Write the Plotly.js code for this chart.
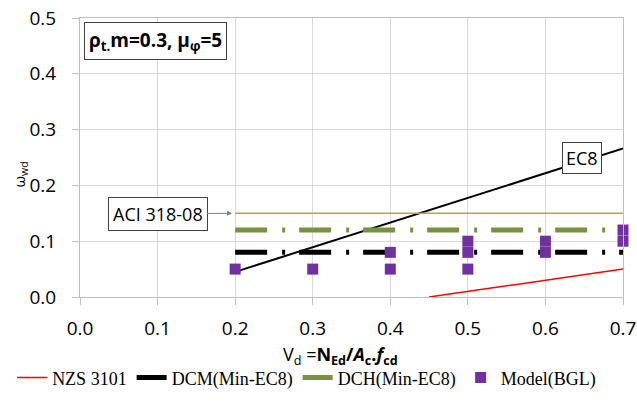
<!DOCTYPE html>
<html><head><meta charset="utf-8">
<script src="https://cdn.plot.ly/plotly-3.0.1.min.js"></script>
<style>html,body{margin:0;padding:0;background:#fff;}#c{width:637px;height:408px;}</style>
</head><body><div id="c"></div>
<script>
// Data
var nzsX = [0.45, 0.7];
var nzsY = [0.0, 0.05];
var dcmX = [0.2, 0.7];
var dcmY = [0.08, 0.08];
var dchX = [0.2, 0.7];
var dchY = [0.12, 0.12];
var modelX = [0.2, 0.3, 0.4, 0.4, 0.5, 0.5, 0.5, 0.6, 0.6, 0.7, 0.7];
var modelY = [0.05, 0.05, 0.05, 0.08, 0.05, 0.08, 0.10, 0.08, 0.10, 0.10, 0.12];
var ec8X = [0.2, 0.7];
var ec8Y = [0.045, 0.266];
var aciX = [0.2, 0.7];
var aciY = [0.15, 0.15];
var xTicks = [0, 0.1, 0.2, 0.3, 0.4, 0.5, 0.6, 0.7];
var xTickText = ['0.0','0.1','0.2','0.3','0.4','0.5','0.6','0.7'];
var yTicks = [0, 0.1, 0.2, 0.3, 0.4, 0.5];
var yTickText = ['0.0','0.1','0.2','0.3','0.4','0.5'];

var dashDot = '32px,15px,3px,14px';
var traces = [
  {x: ec8X, y: ec8Y, mode: 'lines', line: {color: '#000', width: 2}, showlegend: false, hoverinfo: 'skip'},
  {x: aciX, y: aciY, mode: 'lines', line: {color: '#E3923A', width: 1.5}, showlegend: false, hoverinfo: 'skip'},
  {x: nzsX, y: nzsY, mode: 'lines', name: 'NZS 3101', line: {color: '#FF0000', width: 1.5}},
  {x: dcmX, y: dcmY, mode: 'lines', name: 'DCM(Min-EC8)', line: {color: '#000', width: 5, dash: dashDot}},
  {x: dchX, y: dchY, mode: 'lines', name: 'DCH(Min-EC8)', line: {color: '#77933C', width: 5, dash: dashDot}},
  {x: modelX, y: modelY, mode: 'markers', name: 'Model(BGL)', cliponaxis: false, marker: {symbol: 'square', size: 11, color: '#7030A0'}}
];

var axFont = {family: 'Open Sans, sans-serif', size: 19, color: '#000'};
var layout = {
  width: 637, height: 408,
  margin: {l: 80, r: 14, t: 18, b: 111},
  paper_bgcolor: '#fff', plot_bgcolor: '#fff',
  showlegend: true,
  legend: {orientation: 'h', x: -0.125, xanchor: 'left', xref: 'paper', y: -0.29, yref: 'paper', yanchor: 'middle',
           font: {family: 'Liberation Serif, serif', size: 18, color: '#000'}, itemwidth: 30, tracegroupgap: 0},
  xaxis: {range: [0, 0.7], tickvals: xTicks, ticktext: xTickText, tickfont: axFont,
          showgrid: true, gridcolor: '#d9d9d9', zeroline: false, showline: true, linecolor: '#bfbfbf', mirror: true,
          ticks: 'outside', ticklen: 7, tickcolor: '#bfbfbf', ticklabelstandoff: 7},
  yaxis: {range: [0, 0.5], tickvals: yTicks, ticktext: yTickText, tickfont: axFont,
          showgrid: true, gridcolor: '#d9d9d9', zeroline: false, showline: true, linecolor: '#bfbfbf', mirror: true,
          ticks: 'outside', ticklen: 7, tickcolor: '#bfbfbf', ticklabelstandoff: 12},
  annotations: [
    {x: -0.11, y: 0.44, xref: 'paper', yref: 'paper', xanchor: 'center', yanchor: 'middle', showarrow: false, textangle: -90,
     text: 'ω<sub>wd</sub>', font: {family: 'Open Sans, sans-serif', size: 15, color: '#000'}},
    {x: 0.479, y: -0.208, xref: 'paper', yref: 'paper', xanchor: 'center', yanchor: 'middle', showarrow: false,
     text: 'V<sub>d</sub> =<b>N<sub>Ed</sub>/<i>A</i><sub>c</sub>.<i>f</i><sub>cd</sub></b>', font: {family: 'Open Sans, sans-serif', size: 18, color: '#000'}},
    {x: 0.005, y: 0.458, xref: 'x', yref: 'y', xanchor: 'left', yanchor: 'middle', showarrow: false,
     text: '<b>ρ<sub>t.</sub>m=0.3, μ<sub>φ</sub>=5</b>', font: {family: 'Open Sans, sans-serif', size: 19, color: '#000'},
     bgcolor: '#fff', bordercolor: '#404040', borderwidth: 1, borderpad: 4},
    {x: 0.647, y: 0.249, xref: 'x', yref: 'y', showarrow: false, text: 'EC8',
     font: {family: 'Open Sans, sans-serif', size: 18, color: '#000'}, bgcolor: '#fff', bordercolor: '#404040', borderwidth: 1, borderpad: 3},
    {x: 0.196, y: 0.15, xref: 'x', yref: 'y', ax: 0.1, ay: 0.149, axref: 'x', ayref: 'y',
     showarrow: true, arrowhead: 2, arrowsize: 1, arrowwidth: 1, arrowcolor: '#808080', text: 'ACI 318-08',
     font: {family: 'Open Sans, sans-serif', size: 18, color: '#000'}, bgcolor: '#fff', bordercolor: '#404040', borderwidth: 1, borderpad: 4}
  ]
};
Plotly.newPlot('c', traces, layout, {displayModeBar: false, staticPlot: true});
</script></body></html>
